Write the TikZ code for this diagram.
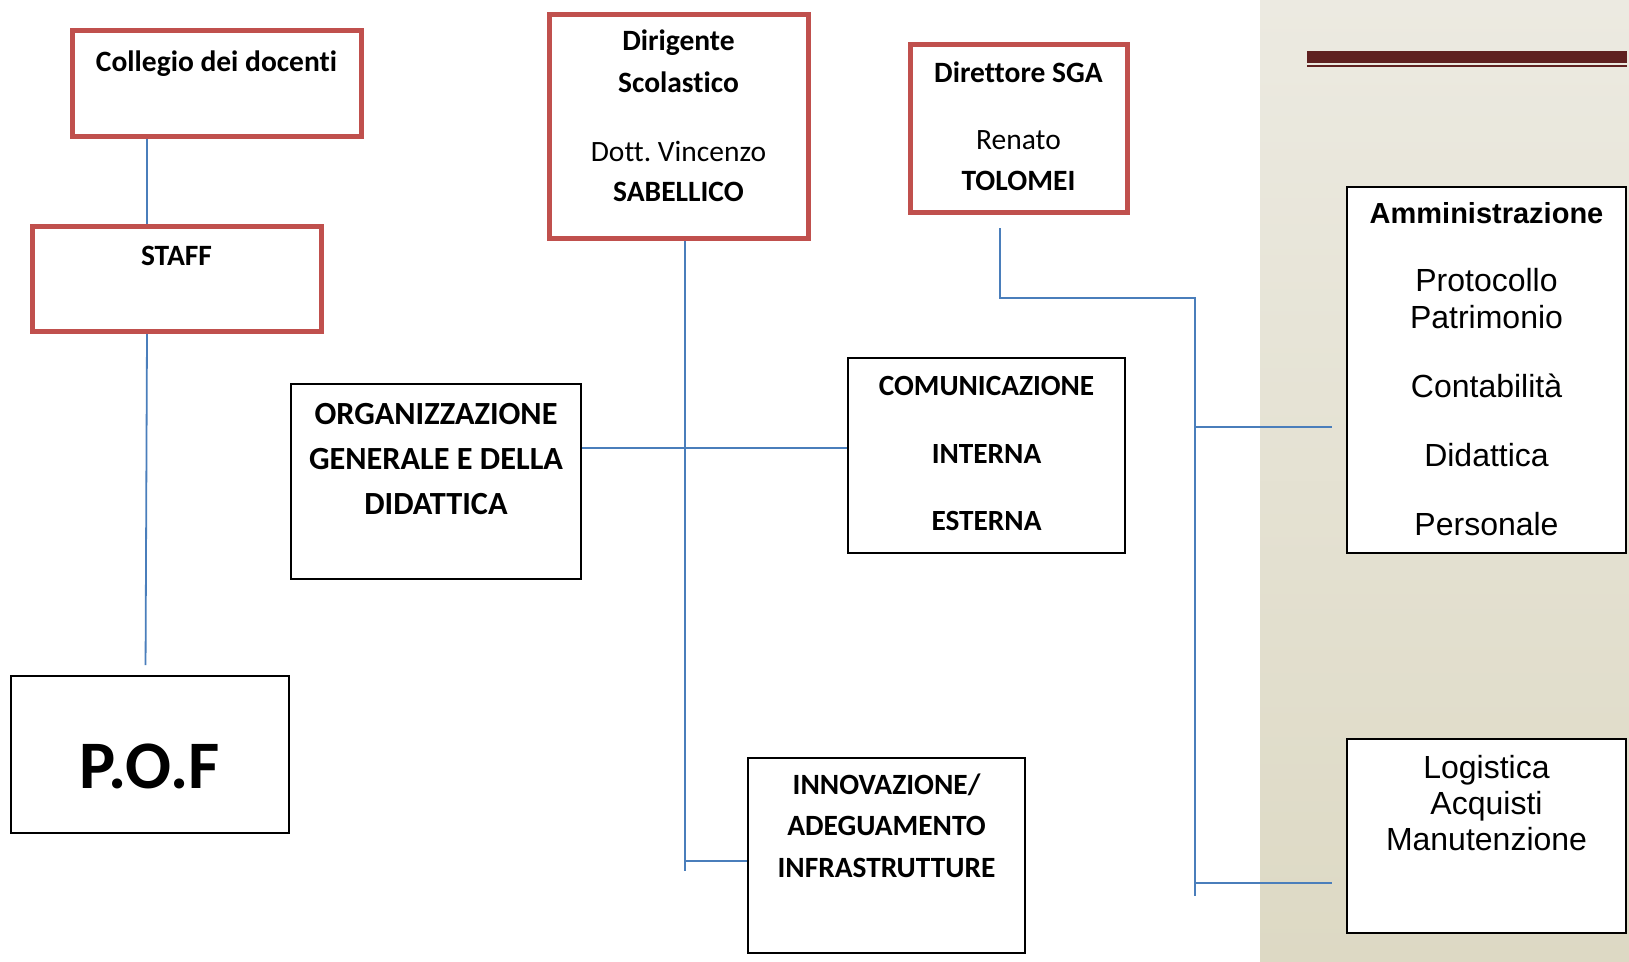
\documentclass[tikz,border=0pt]{standalone}
\usepackage{fontspec}
\setmainfont{Carlito}[Ligatures=NoCommon]
\newfontfamily\arialfont{Liberation Sans}

\definecolor{boxred}{HTML}{C0504D}
\definecolor{lineblue}{HTML}{4A7EBB}
\definecolor{barred}{HTML}{5F2120}
\definecolor{paneltop}{HTML}{ECEAE1}
\definecolor{panelbot}{HTML}{DDD9C4}

% width, height, top gap, text
\newcommand{\inbox}[4]{\parbox[c][#2][t]{#1}{\centering\vspace*{#3}#4}}

\begin{document}
\begin{tikzpicture}[x=1pt, y=-1pt,
    box/.style={draw=black, line width=2pt, fill=white, inner sep=0pt, anchor=north west},
    redbox/.style={box, draw=boxred, line width=5pt},
    conn/.style={draw=lineblue, line width=1.8pt}]
    \useasboundingbox (0,0) rectangle (1629,961);
    \fill[top color=paneltop, bottom color=panelbot] (1260,0) rectangle (1629,961);
    \fill[barred] (1307,51) rectangle (1627,63);
    \fill[barred] (1307,65) rectangle (1627,67);

    \coordinate (jA) at (685,448);
    \coordinate (jB) at (685,861);
    \coordinate (kA) at (1000,298);
    \coordinate (kB) at (1195,298);
    \coordinate (kC) at (1195,427);
    \coordinate (kD) at (1195,883);

    \node[redbox] (coll) at (69.5,27.5) {\inbox{289pt}{106pt}{17.7pt}{\fontsize{29.5}{34}\selectfont\bfseries\strut Collegio dei docenti}};
    \node[redbox] (staff) at (29.5,224) {\inbox{289pt}{105pt}{15.2pt}{\fontsize{29.5}{34}\selectfont\bfseries\strut STAFF}};
    \node[box] (pof) at (10,675) {\inbox{278pt}{157pt}{60.2pt}{\fontsize{68}{74}\selectfont\bfseries\strut P.O.F}};
    \node[redbox] (dir) at (546.5,12) {\inbox{259pt}{223.5pt}{6.6pt}{\fontsize{29.5}{42}\selectfont\bfseries\strut Dirigente\\ Scolastico\\[27pt] {\mdseries Dott.\ Vincenzo}\\[-2pt] SABELLICO}};
    \node[redbox] (dsga) at (907.5,41.5) {\inbox{217pt}{168pt}{9.8pt}{\fontsize{29.5}{41}\selectfont\bfseries\strut Direttore SGA\\[26pt] {\mdseries Renato}\\ TOLOMEI}};
    \node[box] (org) at (290,383) {\inbox{290pt}{195pt}{8.5pt}{\fontsize{32.3}{45}\selectfont\bfseries\strut ORGANIZZAZIONE\\ GENERALE E DELLA\\ DIDATTICA}};
    \node[box] (com) at (847,357) {\inbox{277pt}{195pt}{13.2pt}{\fontsize{29.3}{34}\selectfont\bfseries\strut COMUNICAZIONE\\[34pt] INTERNA\\[33pt] ESTERNA}};
    \node[box] (innov) at (747,757) {\inbox{277pt}{195pt}{6.95pt}{\fontsize{29.4}{41.5}\selectfont\bfseries\strut INNOVAZIONE/\\ ADEGUAMENTO\\ INFRASTRUTTURE}};
    \node[box] (amm) at (1346,186) {\inbox{279pt}{366pt}{10.6pt}{\arialfont\fontsize{32}{37}\selectfont{\bfseries\fontsize{29}{37}\selectfont\strut Amministrazione}\\[31pt] Protocollo\\ Patrimonio\\[32pt] Contabilità\\[32pt] Didattica\\[32pt] Personale}};
    \node[box] (logi) at (1346,738) {\inbox{279pt}{194pt}{14.3pt}{\arialfont\fontsize{32}{36}\selectfont\strut Logistica\\ Acquisti\\ Manutenzione}};

    \draw[conn] ([xshift=-69.5pt]coll.south) -- ([xshift=-29.5pt]staff.north);
    \draw[conn, shorten >=10pt] ([xshift=-29.5pt]staff.south) -- ([xshift=-4.5pt]pof.north);
    \draw[conn] (dir.south -| jB) -- (jB) -- ++(0,10);
    \draw[conn] (org.east |- jA) -- (com.west |- jA);
    \draw[conn] (jB) -- (innov.west |- jB);
    \draw[conn, shorten <=13.5pt] (dsga.south -| kA) -- (kA) -- (kB) -- (kD) -- ++(0,13);
    \draw[conn, shorten >=14pt] (kC) -- (amm.west |- kC);
    \draw[conn, shorten >=14pt] (kD) -- (logi.west |- kD);
    %\draw[conn] (kB) -- (kC);
\end{tikzpicture}
\end{document}
